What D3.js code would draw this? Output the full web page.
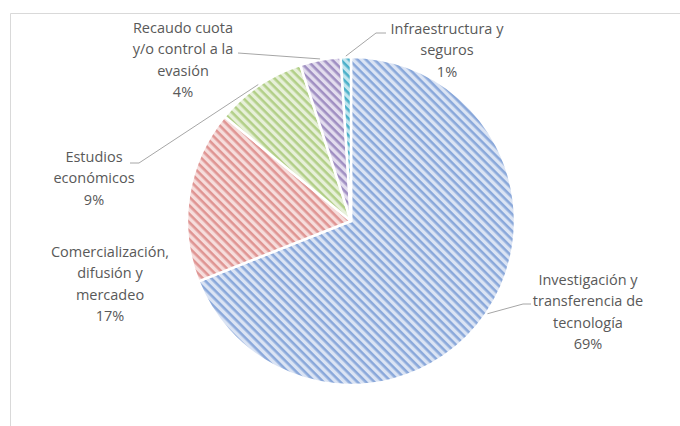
<!DOCTYPE html>
<html>
<head>
<meta charset="utf-8">
<script src="https://cdn.jsdelivr.net/npm/d3@7"></script>
<style>
  body { margin: 0; background: #fff; }
  svg { display: block; }
  .lbl { font-family: "Liberation Sans Narrow", "Open Sans", sans-serif; font-size: 14.5px; fill: #595959; }
</style>
</head>
<body>
<svg width="680" height="426"></svg>
<script>
const categories = ['Investigación y transferencia de tecnología', 'Comercialización, difusión y mercadeo',
    'Estudios económicos', 'Recaudo cuota y/o control a la evasión', 'Infraestructura y seguros'];
const values = [69, 17, 9, 4, 1];
const labelLines = [
    ['Investigación y', 'transferencia de', 'tecnología', '69%'],
    ['Comercialización,', 'difusión y', 'mercadeo', '17%'],
    ['Estudios', 'económicos', '9%'],
    ['Recaudo cuota', 'y/o control a la', 'evasión', '4%'],
    ['Infraestructura y', 'seguros', '1%']
];
const darkColors = ['#8aa8da', '#df9593', '#b2cf88', '#a08fc2', '#4cb0c9'];
const lightColors = ['#dbe4f4', '#f6dddc', '#e7f0d9', '#e3ddee', '#c2e6ef'];

const svg = d3.select('svg');
const cx = 351, cy = 221, r = 164;

// chart frame
svg.append('path')
    .attr('d', 'M10.5,430 L10.5,13.5 L690,13.5')
    .attr('fill', 'none')
    .attr('stroke', '#d9d9d9')
    .attr('stroke-width', 1);

// hatch patterns
const defs = svg.append('defs');
values.forEach((v, i) => {
    const p = defs.append('pattern')
        .attr('id', 'hatch' + i)
        .attr('patternUnits', 'userSpaceOnUse')
        .attr('width', 6)
        .attr('height', 6)
        .attr('patternTransform', 'rotate(45)');
    p.append('rect').attr('width', 6).attr('height', 6).attr('fill', lightColors[i]);
    p.append('rect').attr('width', 6).attr('height', 2.6).attr('fill', darkColors[i]);
});

const pie = d3.pie().sort(null).value(d => d);
const arc = d3.arc().innerRadius(0).outerRadius(r);
const arcs = pie(values);

const g = svg.append('g').attr('transform', `translate(${cx},${cy})`);
g.selectAll('path.slice')
    .data(arcs)
    .enter()
    .append('path')
    .classed('slice', true)
    .attr('d', arc)
    .attr('fill', (d, i) => `url(#hatch${i})`)
    .attr('stroke', '#fff')
    .attr('stroke-width', 2.5)
    .attr('stroke-linejoin', 'round');

// label placement (center x, first line y)
const labelPos = [[588, 280], [110, 252], [94, 157], [183, 28], [447, 29]];
const lineH = 21.3;

// leader lines: from label side toward slice edge
const leaders = [
    [[531, 304], [523, 304]],
    null,
    [[130, 163], [139, 163]],
    [[238, 53]],
    [[386, 33], [376, 33]]
];
leaders.forEach((pts, i) => {
    if (!pts) return;
    const a = arcs[i];
    const mid = (a.startAngle + a.endAngle) / 2;
    const edge = [cx + Math.sin(mid) * (r + 1), cy - Math.cos(mid) * (r + 1)];
    svg.append('path')
        .attr('d', d3.line()(pts.concat([edge])))
        .attr('fill', 'none')
        .attr('stroke', '#a6a6a6')
        .attr('stroke-width', 1);
});

labelLines.forEach((lines, i) => {
    const t = svg.append('text')
        .attr('class', 'lbl')
        .attr('text-anchor', 'middle');
    lines.forEach((s, j) => {
        t.append('tspan')
            .attr('x', labelPos[i][0])
            .attr('y', labelPos[i][1] + j * lineH)
            .attr('dy', '0.35em')
            .text(s);
    });
});
</script>
</body>
</html>
